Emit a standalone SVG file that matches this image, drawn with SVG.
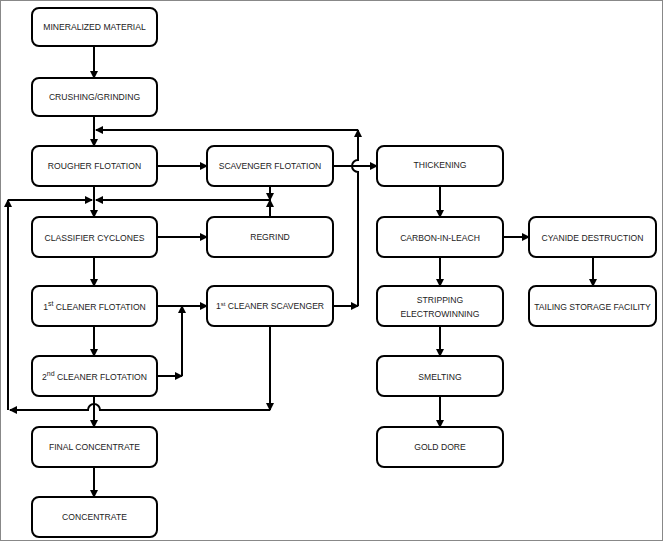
<svg xmlns="http://www.w3.org/2000/svg" width="663" height="541" viewBox="0 0 663 541">
<style>
.b{fill:#fff;stroke:#000;stroke-width:2}
.t{font-family:"Liberation Sans",Arial,sans-serif;font-size:8.6px;fill:#222;text-anchor:middle}
.c{fill:none;stroke:#000;stroke-width:2}
</style>
<defs><marker id="a" markerWidth="8" markerHeight="8" refX="7" refY="4" orient="auto" markerUnits="userSpaceOnUse"><path d="M0,0L8,4L0,8z"/></marker></defs>
<rect x="0.5" y="0.5" width="662" height="540" fill="#fff" stroke="#888"/>
<g id="n1"><rect class="b" x="32" y="8" width="125" height="38" rx="7"/><text class="t" x="94.5" y="30">MINERALIZED MATERIAL</text></g>
<g id="n2"><rect class="b" x="32" y="78" width="125" height="38" rx="7"/><text class="t" x="94.5" y="100">CRUSHING/GRINDING</text></g>
<g id="n3"><rect class="b" x="32" y="146" width="125" height="40" rx="7"/><text class="t" x="94.5" y="169">ROUGHER FLOTATION</text></g>
<g id="n4"><rect class="b" x="32" y="217" width="125" height="40" rx="7"/><text class="t" x="94.5" y="241">CLASSIFIER CYCLONES</text></g>
<g id="n5"><rect class="b" x="32" y="286" width="125" height="40" rx="7"/><text class="t" x="94.5" y="310">1<tspan font-size="7" dy="-4">st</tspan><tspan dy="4"> CLEANER FLOTATION</tspan></text></g>
<g id="n6"><rect class="b" x="32" y="356" width="125" height="40" rx="7"/><text class="t" x="94.5" y="380">2<tspan font-size="7" dy="-4">nd</tspan><tspan dy="4"> CLEANER FLOTATION</tspan></text></g>
<g id="n7"><rect class="b" x="32" y="427" width="125" height="40" rx="7"/><text class="t" x="94.5" y="450">FINAL CONCENTRATE</text></g>
<g id="n8"><rect class="b" x="32" y="497" width="125" height="40" rx="7"/><text class="t" x="94.5" y="520">CONCENTRATE</text></g>
<g id="n9"><rect class="b" x="207" y="146" width="126" height="40" rx="7"/><text class="t" x="270" y="169">SCAVENGER FLOTATION</text></g>
<g id="n10"><rect class="b" x="207" y="217" width="126" height="40" rx="7"/><text class="t" x="270" y="240">REGRIND</text></g>
<g id="n11"><rect class="b" x="207" y="286" width="126" height="40" rx="7"/><text class="t" x="270" y="309">1<tspan font-size="6" dy="-3">st</tspan><tspan dy="3"> CLEANER SCAVENGER</tspan></text></g>
<g id="n12"><rect class="b" x="377" y="146" width="126" height="40" rx="7"/><text class="t" x="440" y="168">THICKENING</text></g>
<g id="n13"><rect class="b" x="377" y="217" width="126" height="40" rx="7"/><text class="t" x="440" y="241">CARBON-IN-LEACH</text></g>
<g id="n14"><rect class="b" x="377" y="286" width="126" height="40" rx="7"/><text class="t" x="440" y="303">STRIPPING</text><text class="t" x="440" y="317">ELECTROWINNING</text></g>
<g id="n15"><rect class="b" x="377" y="356" width="126" height="40" rx="7"/><text class="t" x="440" y="380">SMELTING</text></g>
<g id="n16"><rect class="b" x="377" y="427" width="126" height="40" rx="7"/><text class="t" x="440" y="450">GOLD DORE</text></g>
<g id="n17"><rect class="b" x="529" y="217" width="127" height="40" rx="7"/><text class="t" x="592.5" y="241">CYANIDE DESTRUCTION</text></g>
<g id="n18"><rect class="b" x="529" y="286" width="127" height="40" rx="7"/><text class="t" x="592.5" y="310">TAILING STORAGE FACILITY</text></g>
<g id="connectors" class="c" marker-end="url(#a)">
<path d="M94,46V78"/><path d="M94,116V146"/>
<path d="M358,306V172A6,6 0 0 1 358,160V130"/>
<path d="M358,130H96"/>
<path d="M333,306H358"/>
<path d="M157,166H207"/><path d="M333,166H377"/>
<path d="M270,186V200"/><path d="M270,217V200"/>
<path d="M270,200H96"/>
<path d="M8,410V200"/><path d="M8,200H92"/>
<path d="M94,186V217"/><path d="M157,237H207"/><path d="M94,257V286"/>
<path d="M157,306H207"/><path d="M182,376V306"/><path d="M157,376H182"/>
<path d="M94,326V356"/>
<path d="M270,326V410"/>
<path d="M270,410H100A6,6 0 0 0 88,410H10"/>
<path d="M94,396V427"/><path d="M94,467V497"/>
<path d="M440,186V217"/><path d="M503,237H529"/><path d="M440,257V286"/><path d="M440,326V356"/><path d="M440,396V427"/><path d="M593,257V286"/>
</g>
</svg>
